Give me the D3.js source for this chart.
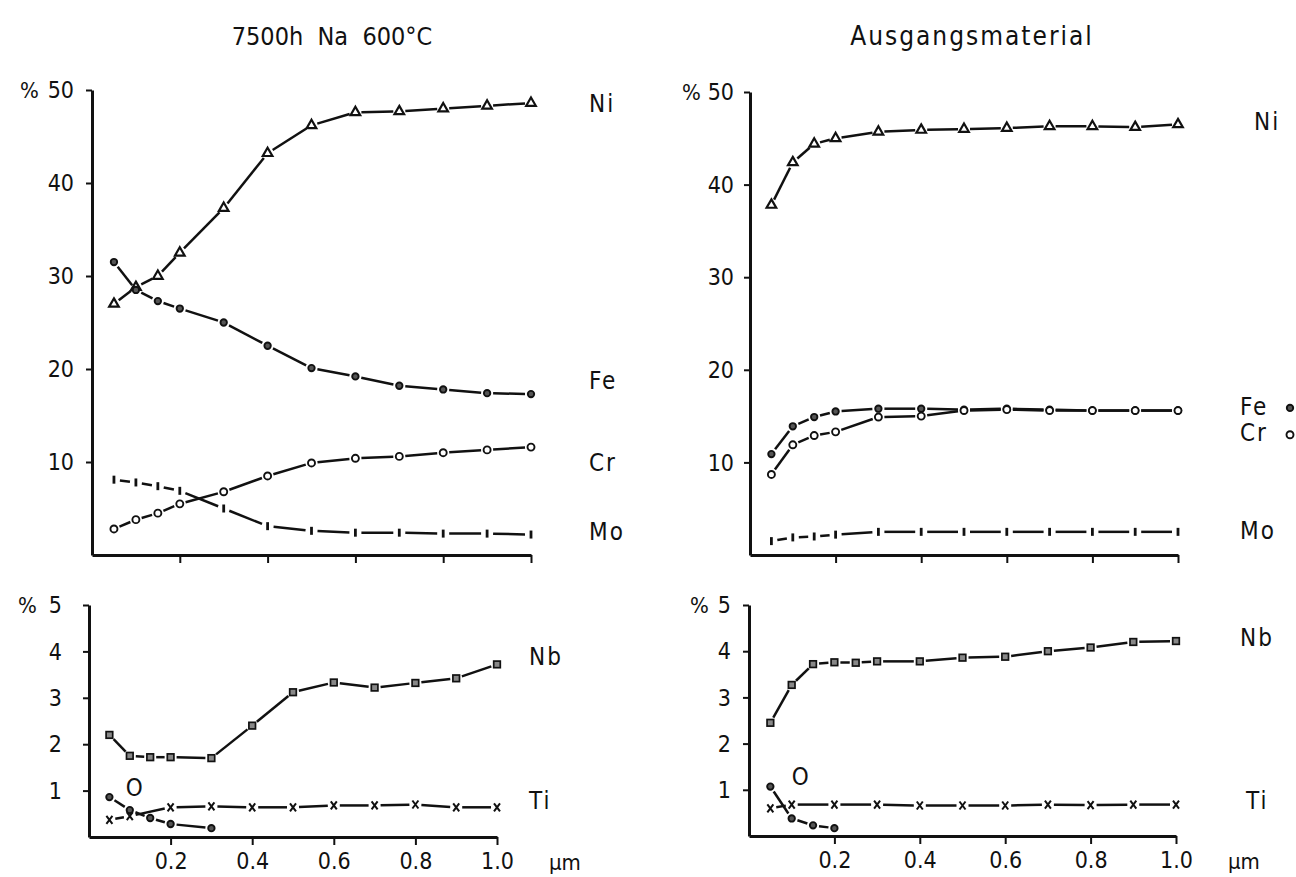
<!DOCTYPE html>
<html>
<head>
<meta charset="utf-8">
<style>
  body { margin: 0; background: #fff; }
  svg text { font-family: "DejaVu Sans Condensed", "DejaVu Sans", sans-serif; fill: #111; }
</style>
<title>Konzentrationsprofile</title>
</head>
<body>
<div id="chart"></div>
<script src="https://cdn.jsdelivr.net/npm/d3@7"></script>
<script>
// depth (um)
var depthMain = [0.05, 0.1, 0.15, 0.2, 0.3, 0.4, 0.5, 0.6, 0.7, 0.8, 0.9, 1.0];
var depthTi = [0.05, 0.1, 0.2, 0.3, 0.4, 0.5, 0.6, 0.7, 0.8, 0.9, 1.0];
var depthO_left = [0.05, 0.1, 0.15, 0.2, 0.3];
var depthO_right = [0.05, 0.1, 0.15, 0.2];
var depthNb_right = [0.05, 0.1, 0.15, 0.2, 0.25, 0.3, 0.4, 0.5, 0.6, 0.7, 0.8, 0.9, 1.0];

// 7500 h Na 600 C
var niLeft = [27.0, 28.8, 30.0, 32.5, 37.3, 43.2, 46.2, 47.6, 47.7, 48.0, 48.3, 48.6];
var feLeft = [31.5, 28.5, 27.3, 26.5, 25.0, 22.5, 20.1, 19.2, 18.2, 17.8, 17.4, 17.3];
var crLeft = [2.8, 3.8, 4.5, 5.5, 6.8, 8.5, 9.9, 10.4, 10.6, 11.0, 11.3, 11.6];
var moLeft = [8.1, 7.8, 7.4, 6.9, 5.0, 3.1, 2.6, 2.4, 2.4, 2.3, 2.3, 2.2];
var nbLeft = [2.2, 1.75, 1.72, 1.72, 1.7, 2.4, 3.12, 3.33, 3.22, 3.32, 3.42, 3.72];
var tiLeft = [0.37, 0.45, 0.64, 0.66, 0.64, 0.64, 0.68, 0.68, 0.7, 0.64, 0.64];
var oLeft = [0.86, 0.58, 0.41, 0.28, 0.19];

// Ausgangsmaterial
var niRight = [37.8, 42.4, 44.4, 45.0, 45.7, 45.9, 46.0, 46.1, 46.3, 46.3, 46.2, 46.5];
var feRight = [10.9, 13.9, 14.9, 15.5, 15.8, 15.8, 15.7, 15.8, 15.7, 15.6, 15.6, 15.6];
var crRight = [8.7, 11.9, 12.9, 13.3, 14.9, 15.0, 15.6, 15.7, 15.6, 15.6, 15.6, 15.6];
var moRight = [1.5, 1.9, 2.0, 2.2, 2.5, 2.5, 2.5, 2.5, 2.5, 2.5, 2.5, 2.5];
var nbRight = [2.45, 3.27, 3.72, 3.76, 3.75, 3.78, 3.78, 3.86, 3.88, 4.0, 4.08, 4.2, 4.22];
var tiRight = [0.6, 0.68, 0.68, 0.68, 0.66, 0.66, 0.66, 0.68, 0.67, 0.68, 0.68];
var oRight = [1.07, 0.38, 0.23, 0.17];

var xTicks = [0.2, 0.4, 0.6, 0.8, 1.0];
var yTicksMain = [10, 20, 30, 40, 50];
var yTicksMinor = [1, 2, 3, 4, 5];
var titles = ["7500h  Na  600°C", "Ausgangsmaterial"];

var width = 1296, height = 877;
var svg = d3.select("#chart").append("svg")
    .attr("width", width)
    .attr("height", height);

// marker drawing
function marker(g, kind, x, y) {
    var m = g.append("g").attr("transform", "translate(" + x + "," + y + ")");
    if (kind == "tri") {
        m.append("path").attr("d", d3.symbol().type(d3.symbolTriangle).size(40)())
            .attr("fill", "#fff").attr("stroke", "#111").attr("stroke-width", 2.2);
    } else if (kind == "dot") {
        m.append("circle").attr("r", 3.2).attr("fill", "#555").attr("stroke", "#111").attr("stroke-width", 1.9);
    } else if (kind == "ring") {
        m.append("circle").attr("r", 3.5).attr("fill", "#fff").attr("stroke", "#111").attr("stroke-width", 1.9);
    } else if (kind == "bar") {
        m.append("line").attr("y1", -4).attr("y2", 4).attr("stroke", "#111").attr("stroke-width", 2.8);
    } else if (kind == "sq") {
        m.append("rect").attr("x", -3.3).attr("y", -3.3).attr("width", 6.6).attr("height", 6.6)
            .attr("fill", "#888").attr("stroke", "#111").attr("stroke-width", 1.7);
    } else if (kind == "x") {
        m.append("path").attr("d", "M-3,-4L3,4M3,-4L-3,4")
            .attr("stroke", "#111").attr("stroke-width", 2).attr("fill", "none");
    }
}

function drawSeries(g, xs, ys, x, y, kind) {
    var pts = xs.map(function (d, i) { return [x(d), y(ys[i])]; });
    var gap = 6;
    for (var i = 0; i < pts.length - 1; i++) {
        var p = pts[i], q = pts[i + 1];
        var dx = q[0] - p[0], dy = q[1] - p[1];
        var len = Math.sqrt(dx * dx + dy * dy);
        if (len <= 2 * gap) continue;
        var ux = dx / len, uy = dy / len;
        g.append("line")
            .attr("x1", p[0] + ux * gap).attr("y1", p[1] + uy * gap)
            .attr("x2", q[0] - ux * gap).attr("y2", q[1] - uy * gap)
            .attr("stroke", "#111").attr("stroke-width", 2.5);
    }
    pts.forEach(function (p) { marker(g, kind, p[0], p[1]); });
}

function drawPanel(cfg) {
    var x = d3.scaleLinear().domain([0, 1]).range(cfg.xr);
    var y = d3.scaleLinear().domain([0, cfg.ymax]).range(cfg.yr);
    var g = svg.append("g");

    // y axis
    var ya = g.append("g").attr("transform", "translate(" + cfg.xr[0] + ",0)")
        .call(d3.axisLeft(y).tickValues(cfg.yTicks).tickSize(6).tickSizeOuter(0).tickFormat(""));
    ya.select(".domain").attr("stroke-width", 3).attr("stroke", "#111");
    ya.selectAll(".tick line").attr("stroke-width", 2).attr("stroke", "#111");

    cfg.yTicks.forEach(function (t) {
        g.append("text")
            .attr("x", cfg.xr[0] - cfg.labOff).attr("y", y(t))
            .attr("dy", "0.36em").attr("text-anchor", "end")
            .style("font-size", "23px")
            .text(t);
    });
    g.append("text")
        .attr("x", cfg.pctX).attr("y", y(cfg.ymax))
        .attr("dy", "0.36em").attr("text-anchor", "start")
        .style("font-size", "22px")
        .text("%");

    // x axis
    var xa = g.append("g").attr("transform", "translate(0," + cfg.yr[0] + ")")
        .call(d3.axisBottom(x).tickValues(xTicks).tickSize(8).tickSizeOuter(0)
            .tickFormat(cfg.xLabels ? d3.format(".1f") : ""));
    xa.select(".domain").attr("stroke-width", 3).attr("stroke", "#111");
    xa.selectAll(".tick line").attr("stroke-width", 2).attr("stroke", "#111");
    xa.selectAll(".tick text")
        .attr("y", 16)
        .style("font-size", "23px")
        .style("font-family", "'DejaVu Sans Condensed', 'DejaVu Sans', sans-serif")
        .attr("fill", "#111");
    if (cfg.xLabels) {
        g.append("text")
            .attr("x", x(1) + 52).attr("y", cfg.yr[0] + 25)
            .attr("dy", "0.36em")
            .style("font-size", "22px")
            .text("µm");
    }

    cfg.series.forEach(function (s) {
        drawSeries(g, s.xs, s.ys, x, y, s.kind);
    });

    cfg.labels.forEach(function (l) {
        g.append("text")
            .attr("x", l.px != null ? x(l.px) : x(1) + l.dx)
            .attr("y", y(l.at))
            .attr("dy", "0.36em")
            .style("font-size", "24px")
            .style("letter-spacing", "2px")
            .text(l.text);
        if (l.mark) marker(g, l.mark, x(1) + l.dx + 50, y(l.at) + 2);
    });
}

// titles
svg.append("text").attr("x", 332).attr("y", 36).attr("dy", "0.36em")
    .attr("text-anchor", "middle").style("font-size", "25px").style("white-space", "pre")
    .text(titles[0]);
svg.append("text").attr("x", 972).attr("y", 36).attr("dy", "0.36em")
    .attr("text-anchor", "middle").style("font-size", "26px").style("letter-spacing", "2px")
    .text(titles[1]);

drawPanel({
    xr: [92, 531], yr: [555, 90], ymax: 50, yTicks: yTicksMain, labOff: 18, pctX: 20, xLabels: false,
    series: [
        { xs: depthMain, ys: niLeft, kind: "tri" },
        { xs: depthMain, ys: feLeft, kind: "dot" },
        { xs: depthMain, ys: crLeft, kind: "ring" },
        { xs: depthMain, ys: moLeft, kind: "bar" }
    ],
    labels: [
        { text: "Ni", at: 48.6, dx: 58 },
        { text: "Fe", at: 18.8, dx: 58 },
        { text: "Cr", at: 10.0, dx: 58 },
        { text: "Mo", at: 2.5, dx: 58 }
    ]
});

drawPanel({
    xr: [89, 497], yr: [837, 605], ymax: 5, yTicks: yTicksMinor, labOff: 27, pctX: 18, xLabels: true,
    series: [
        { xs: depthMain, ys: nbLeft, kind: "sq" },
        { xs: depthTi, ys: tiLeft, kind: "x" },
        { xs: depthO_left, ys: oLeft, kind: "dot" }
    ],
    labels: [
        { text: "Nb", at: 3.9, dx: 32 },
        { text: "Ti", at: 0.8, dx: 32 },
        { text: "O", at: 1.08, px: 0.09 }
    ]
});

drawPanel({
    xr: [750, 1178], yr: [555, 92], ymax: 50, yTicks: yTicksMain, labOff: 16, pctX: 682, xLabels: false,
    series: [
        { xs: depthMain, ys: niRight, kind: "tri" },
        { xs: depthMain, ys: feRight, kind: "dot" },
        { xs: depthMain, ys: crRight, kind: "ring" },
        { xs: depthMain, ys: moRight, kind: "bar" }
    ],
    labels: [
        { text: "Ni", at: 46.8, dx: 76 },
        { text: "Fe", at: 16.1, dx: 62, mark: "dot" },
        { text: "Cr", at: 13.2, dx: 62, mark: "ring" },
        { text: "Mo", at: 2.7, dx: 62 }
    ]
});

drawPanel({
    xr: [749, 1176], yr: [836, 605], ymax: 5, yTicks: yTicksMinor, labOff: 18, pctX: 690, xLabels: true,
    series: [
        { xs: depthNb_right, ys: nbRight, kind: "sq" },
        { xs: depthTi, ys: tiRight, kind: "x" },
        { xs: depthO_right, ys: oRight, kind: "dot" }
    ],
    labels: [
        { text: "Nb", at: 4.3, dx: 64 },
        { text: "Ti", at: 0.78, dx: 70 },
        { text: "O", at: 1.3, px: 0.1 }
    ]
});
</script>
</body>
</html>
